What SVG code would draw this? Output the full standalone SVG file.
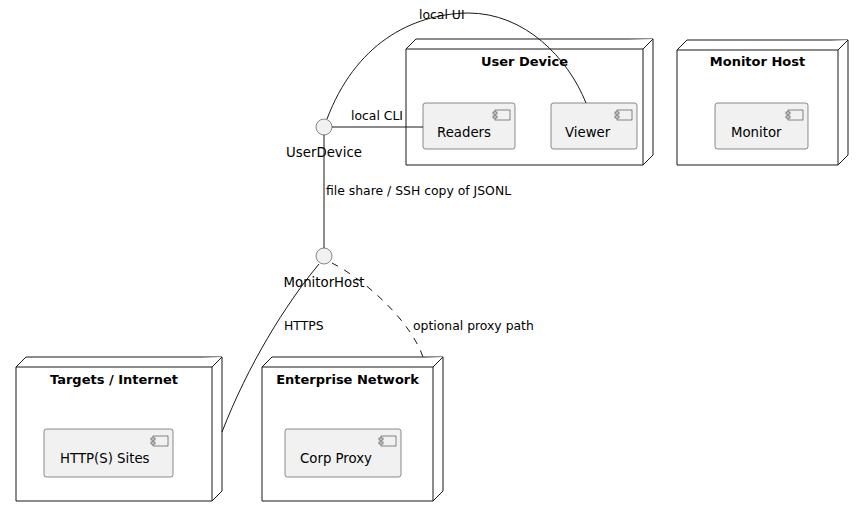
<svg xmlns="http://www.w3.org/2000/svg" width="863" height="516" viewBox="0 0 863 516">
<style>
.node{fill:#FFFFFF;stroke:#181818;stroke-width:1}
.comp{fill:#F1F1F1;stroke:#181818;stroke-width:0.5}
.ico{fill:#F1F1F1;stroke:#181818;stroke-width:0.5}
.iface{fill:#F1F1F1;stroke:#181818;stroke-width:0.5}
.title{font-family:"DejaVu Sans","Liberation Sans",sans-serif;font-size:13px;font-weight:bold;fill:#000;text-anchor:middle}
.ctext{font-family:"DejaVu Sans","Liberation Sans",sans-serif;font-size:13.3px;fill:#000}
.ltext{font-family:"DejaVu Sans","Liberation Sans",sans-serif;font-size:12.4px;fill:#000}
.link{fill:none;stroke:#181818;stroke-width:1}
.dash{stroke-dasharray:7,7}
</style>
<defs>
<g id="icon">
<rect class="ico" x="-20" y="7" width="15" height="10"/>
<rect class="ico" x="-22" y="9" width="4" height="2"/>
<rect class="ico" x="-22" y="13" width="4" height="2"/>
</g>
</defs>

<g id="userDevice">
<path class="node" d="M406,49 L416,39 L653,39 L653,155 L643,165 L406,165 Z"/>
<path class="node" d="M406,49 L643,49 L653,39 M643,49 L643,165"/>
<text class="title" x="524.5" y="66">User Device</text>
</g>
<g id="readers">
<rect class="comp" x="423" y="103" width="92" height="46" rx="2.5"/>
<use href="#icon" x="515" y="103"/>
<text class="ctext" x="437" y="137">Readers</text>
</g>
<g id="viewer">
<rect class="comp" x="551" y="103" width="86" height="46" rx="2.5"/>
<use href="#icon" x="637" y="103"/>
<text class="ctext" x="565" y="137">Viewer</text>
</g>

<g id="monitorHost">
<path class="node" d="M677,50 L687,40 L848,40 L848,155 L838,165 L677,165 Z"/>
<path class="node" d="M677,50 L838,50 L848,40 M838,50 L838,165"/>
<text class="title" x="757.5" y="66">Monitor Host</text>
</g>
<g id="monitor">
<rect class="comp" x="715" y="103" width="93" height="46" rx="2.5"/>
<use href="#icon" x="808" y="103"/>
<text class="ctext" x="731" y="137">Monitor</text>
</g>

<g id="targets">
<path class="node" d="M16,367 L26,357 L222,357 L222,491 L212,501 L16,501 Z"/>
<path class="node" d="M16,367 L212,367 L222,357 M212,367 L212,501"/>
<text class="title" x="114" y="384">Targets / Internet</text>
</g>
<g id="httpSites">
<rect class="comp" x="44" y="429" width="129" height="48" rx="2.5"/>
<use href="#icon" x="173" y="429"/>
<text class="ctext" x="60" y="463">HTTP(S) Sites</text>
</g>

<g id="enterprise">
<path class="node" d="M262,367 L272,357 L443,357 L443,491 L433,501 L262,501 Z"/>
<path class="node" d="M262,367 L433,367 L443,357 M433,367 L433,501"/>
<text class="title" x="347.5" y="384">Enterprise Network</text>
</g>
<g id="corpProxy">
<rect class="comp" x="285" y="429" width="116" height="48" rx="2.5"/>
<use href="#icon" x="401" y="429"/>
<text class="ctext" x="300" y="463">Corp Proxy</text>
</g>

<g id="connectors">
<path class="link" d="M332,127 L423,127"/>
<path class="link" d="M324,135 L324,248"/>
<path class="link" d="M327,119 C355,45 410,14 468,13 C525,13 568,58 586,103"/>
<path class="link" d="M319,264 C285,305 248,365 222,432"/>
<path class="link dash" d="M332,263 C365,280 410,320 423,357"/>
<text class="ltext" x="351" y="120">local CLI</text>
<text class="ltext" x="419" y="19">local UI</text>
<text class="ltext" x="326" y="195">file share / SSH copy of JSONL</text>
<text class="ltext" x="284" y="330">HTTPS</text>
<text class="ltext" x="413" y="330">optional proxy path</text>
</g>

<g id="ifUserDevice">
<circle class="iface" cx="324" cy="127" r="8"/>
<text class="ctext" x="324" y="157" text-anchor="middle">UserDevice</text>
</g>
<g id="ifMonitorHost">
<circle class="iface" cx="324" cy="256" r="8"/>
<text class="ctext" x="324" y="287" text-anchor="middle">MonitorHost</text>
</g>
</svg>
